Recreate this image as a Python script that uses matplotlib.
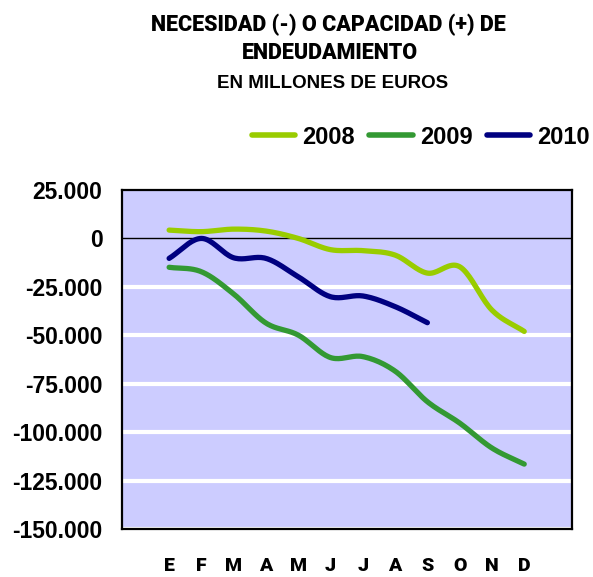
import numpy as np
import matplotlib
matplotlib.use("Agg")
import matplotlib.pyplot as plt
from matplotlib.ticker import FuncFormatter

meses = ['E', 'F', 'M', 'A', 'M', 'J', 'J', 'A', 'S', 'O', 'N', 'D']
v2008 = [4300, 3500, 4800, 3800, 0, -5800, -6300, -8600, -17900, -14600, -37000, -48000]
v2009 = [-14900, -17200, -28700, -43700, -49900, -61500, -61000, -68500, -84300, -95300, -108200, -116500]
v2010 = [-10300, 0, -10000, -10300, -19800, -30100, -29700, -35200, -43500]
series = [('2008', v2008, '#99CC00'), ('2009', v2009, '#339933'), ('2010', v2010, '#000080')]

HEAVY = ['Roboto', 'DejaVu Sans']


def smooth(x, y, n=20):
    # Catmull-Rom curve through the points, like Excel's smoothed line
    x = np.asarray(x, float)
    y = np.asarray(y, float)
    px = np.concatenate([[2 * x[0] - x[1]], x, [2 * x[-1] - x[-2]]])
    py = np.concatenate([[2 * y[0] - y[1]], y, [2 * y[-1] - y[-2]]])
    xs, ys = [], []
    t = np.linspace(0, 1, n, endpoint=False)
    for i in range(1, len(px) - 2):
        for p, out in ((px, xs), (py, ys)):
            p0, p1, p2, p3 = p[i - 1], p[i], p[i + 1], p[i + 2]
            out.extend(0.5 * (2 * p1 + (-p0 + p2) * t + (2 * p0 - 5 * p1 + 4 * p2 - p3) * t ** 2
                              + (-p0 + 3 * p1 - 3 * p2 + p3) * t ** 3))
    xs.append(x[-1])
    ys.append(y[-1])
    return xs, ys


fig = plt.figure(figsize=(5.93, 5.77), dpi=100)
ax = fig.add_axes([122 / 593, 48 / 577, 450 / 593, 339 / 577])
ax.set_facecolor('#CCCCFF')

for yv in [-25000, -50000, -75000, -100000, -125000, -150000]:
    ax.axhline(yv, color='white', lw=3, zorder=1)
ax.axhline(0, color='black', lw=1, zorder=2)

for name, vals, col in series:
    xs, ys = smooth(range(len(vals)), vals)
    ax.plot(xs, ys, color=col, lw=3.8, solid_capstyle='round', label=name, zorder=3)

ax.set_xlim(-1.46, 12.48)
ax.set_ylim(-150000, 25000)
ax.set_yticks(np.arange(-150000, 25001, 25000))
ax.yaxis.set_major_formatter(FuncFormatter(lambda v, p: f'{int(v):,}'.replace(',', '.')))
ax.set_xticks(range(12))
ax.set_xticklabels(meses)
ax.tick_params(axis='y', length=0, pad=14, labelsize=16.5)
ax.tick_params(axis='x', length=0, pad=20, labelsize=14)
for lab in ax.get_yticklabels():
    lab.set_fontweight('bold')
    lab.set_family('Liberation Sans')
for lab in ax.get_xticklabels():
    lab.set_fontweight('black')
    lab.set_family(HEAVY)
for s in ax.spines.values():
    s.set_linewidth(1.6)

leg = ax.legend(loc='center right', bbox_to_anchor=(1.04, 1.156), ncol=3, frameon=False,
                borderaxespad=0, borderpad=0,
                handlelength=1.85, handletextpad=0.3, columnspacing=0.6,
                prop={'family': 'Liberation Sans', 'weight': 'bold', 'size': 17})
for h in leg.get_lines():
    h.set_linewidth(4)

fig.text(0.553, 0.956, 'NECESIDAD (-) O CAPACIDAD (+) DE', ha='center', va='center',
         fontsize=15.5, fontweight='black', family=HEAVY)
fig.text(0.556, 0.909, 'ENDEUDAMIENTO', ha='center', va='center',
         fontsize=15.5, fontweight='black', family=HEAVY)
fig.text(0.56, 0.856, 'EN MILLONES DE EUROS', ha='center', va='center',
         fontsize=13.5, fontweight='bold', family='Liberation Sans')

fig.savefig('out.png', dpi=100)
